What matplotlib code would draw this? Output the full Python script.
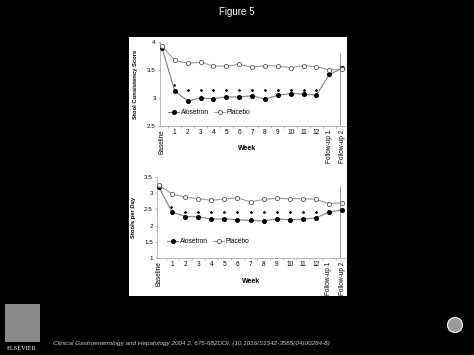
import matplotlib
matplotlib.use("Agg")
import matplotlib.pyplot as plt
from matplotlib.patches import Rectangle, Circle
from matplotlib.ticker import FuncFormatter

plt.rcParams['font.family'] = ['Liberation Sans', 'DejaVu Sans']

categories = ['Baseline', '1', '2', '3', '4', '5', '6', '7', '8', '9', '10', '11', '12',
              'Follow-up 1', 'Follow-up 2']
rotated = ['Baseline', 'Follow-up 1', 'Follow-up 2']

# stool consistency score
cons_alosetron = [3.90, 3.12, 2.95, 3.00, 2.99, 3.02, 3.02, 3.04, 2.98, 3.05, 3.08, 3.07, 3.05, 3.42, 3.53]
cons_placebo = [3.93, 3.67, 3.62, 3.64, 3.57, 3.57, 3.60, 3.55, 3.58, 3.57, 3.54, 3.58, 3.56, 3.50, 3.52]
cons_star_x = [0.9, 2, 3, 4, 5, 6, 7, 8, 9, 10, 11, 12]
cons_star_y = [3.23, 3.15, 3.15, 3.15, 3.15, 3.15, 3.15, 3.15, 3.15, 3.15, 3.15, 3.15]

# stools per day
day_alosetron = [3.18, 2.42, 2.28, 2.27, 2.20, 2.21, 2.18, 2.16, 2.14, 2.21, 2.18, 2.20, 2.24, 2.42, 2.48]
day_placebo = [3.24, 2.98, 2.88, 2.83, 2.78, 2.82, 2.86, 2.73, 2.81, 2.84, 2.83, 2.83, 2.81, 2.68, 2.70]
day_star_x = [0.9, 2, 3, 4, 5, 6, 7, 8, 9, 10, 11, 12]
day_star_y = [2.56, 2.43, 2.43, 2.43, 2.43, 2.43, 2.43, 2.43, 2.43, 2.43, 2.43, 2.43]

W, H = 474, 355
fig = plt.figure(figsize=(W / 100, H / 100), dpi=100, facecolor='black')

# white panel behind the two charts
fig.add_artist(Rectangle((129 / W, 1 - 296 / H), (347 - 129) / W, (296 - 37) / H,
                         transform=fig.transFigure, facecolor='white', edgecolor='none', zorder=0))

fig.text(237 / W, 1 - 12 / H, 'Figure 5', color='white', fontsize=7, ha='center', va='center')
fig.text(53 / W, 1 - 343 / H,
         'Clinical Gastroenterology and Hepatology 2004 2, 675-682DOI: (10.1016/S1542-3565(04)00284-8)',
         color='#cccccc', fontsize=4.6, style='italic', ha='left', va='center')

# publisher logo and seal (rough)
fig.add_artist(Rectangle((5 / W, 1 - 342 / H), 35 / W, 38 / H, transform=fig.transFigure,
                         facecolor='#8a8a8a', edgecolor='none'))
fig.text(22 / W, 1 - 349 / H, 'ELSEVIER', color='white', fontsize=4.5, family='Liberation Serif',
         ha='center', va='center')
fig.add_artist(Circle((4.55, 0.30), 0.075, transform=fig.dpi_scale_trans,
                      facecolor='#9a9a9a', edgecolor='white', linewidth=0.8))


def draw(ax, alo, pla, sx, sy, ylim, yticks, ylabel, vline_top, leg_xy, ylab_x, wk_xy):
    x = range(len(categories))
    ax.set_facecolor('white')
    ax.plot(x, alo, color='#7f7f7f', lw=0.8, marker='o', ms=2.6, mfc='black', mec='black',
            label='Alosetron', zorder=3)
    ax.plot(x, pla, color='#9a9a9a', lw=0.8, marker='o', ms=3.0, mfc='white', mec='#555555',
            mew=0.6, label='Placebo', zorder=3)
    ax.plot(sx, sy, ls='none', marker=(6, 2, 0), ms=1.8, mew=0.4, color='black')
    ax.vlines(13.85, ylim[0], vline_top, color='#9a9a9a', lw=0.7)

    ax.set_xlim(-0.15, 14.3)
    ax.set_ylim(*ylim)
    ax.set_yticks(yticks)
    ax.yaxis.set_major_formatter(FuncFormatter(lambda v, p: '%g' % v))
    ax.set_xticks(list(x))
    ax.set_xticklabels(categories)
    for lab in ax.get_xticklabels():
        if lab.get_text() in rotated:
            lab.set_rotation(90)
            lab.set_va('top')
    ax.set_xticks([i + 0.5 for i in range(len(categories) - 1)], minor=True)
    ax.tick_params(axis='x', which='major', length=0, pad=2.5, labelsize=4.7)
    ax.tick_params(axis='x', which='minor', length=1.5, color='#9a9a9a', width=0.5)
    ax.tick_params(axis='y', length=1.5, color='#9a9a9a', width=0.5, pad=1.5, labelsize=4.5)
    for s in ['top', 'right']:
        ax.spines[s].set_visible(False)
    for s in ['left', 'bottom']:
        ax.spines[s].set_color('#9a9a9a')
        ax.spines[s].set_linewidth(0.5)

    ax.set_ylabel(ylabel, fontsize=4.2, fontweight='bold')
    ax.yaxis.set_label_coords(ylab_x, 0.5)
    ax.set_xlabel('Week', fontsize=5, fontweight='bold')
    ax.xaxis.set_label_coords(*wk_xy)
    ax.legend(loc='center left', bbox_to_anchor=leg_xy, ncol=2, frameon=False, fontsize=4.8,
              handlelength=1.6, handletextpad=0.3, columnspacing=0.8, borderaxespad=0)


ax1 = fig.add_axes([160 / W, 1 - 126 / H, 186 / W, 84 / H])
draw(ax1, cons_alosetron, cons_placebo, cons_star_x, cons_star_y, (2.5, 4.0),
     [2.5, 3, 3.5, 4], 'Stool Consistency Score', 3.8, (0.03, 0.16), -0.12, (0.47, -0.23))

ax2 = fig.add_axes([157 / W, 1 - 258 / H, 189 / W, 81 / H])
draw(ax2, day_alosetron, day_placebo, day_star_x, day_star_y, (1.0, 3.5),
     [1, 1.5, 2, 2.5, 3, 3.5], 'Stools per Day', 3.22, (0.04, 0.2), -0.11, (0.5, -0.25))

fig.savefig('out.png', dpi=100, facecolor='black')
